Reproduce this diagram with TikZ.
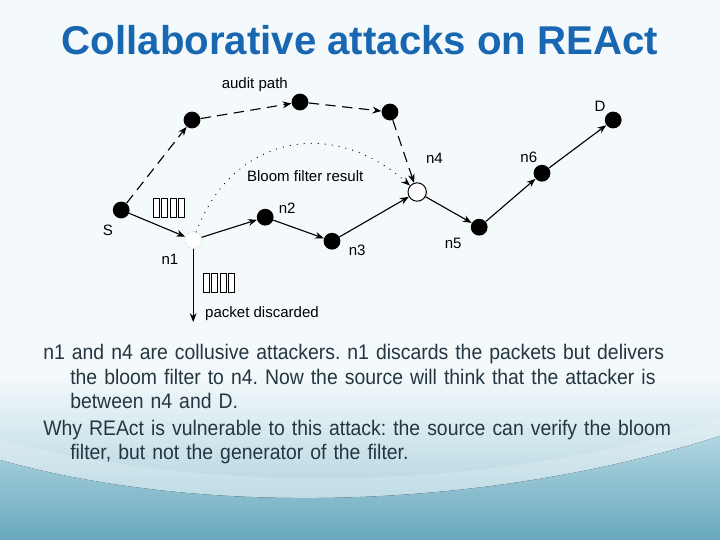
\documentclass[tikz,border=0pt]{standalone}
\usepackage{fontspec}
\setmainfont{Liberation Sans}
\newfontfamily\slidefont[FakeStretch=0.92]{Liberation Sans}
\usetikzlibrary{positioning,arrows.meta,calc,backgrounds}

\definecolor{titleblue}{RGB}{24,103,176}
\definecolor{bodyslate}{RGB}{36,54,64}
\definecolor{slidetop}{RGB}{244,249,251}
\definecolor{wavelight}{RGB}{190,222,231}
\definecolor{wavedark}{RGB}{104,168,190}

\tikzset{
    packets/.pic={
        \foreach \k in {0,...,3}
            \draw[line width=0.7pt, fill=white] (\k*0.21,0) rectangle ++(0.15,0.46);
    }
}

\begin{document}
\begin{tikzpicture}[
    font=\fontsize{10.7}{12}\selectfont,
    dot/.style={
        circle,
        fill=black,
        inner sep=0pt,
        minimum size=0.42cm
    },
    dropper/.style={
        circle,
        draw=black!30,
        densely dotted,
        fill=white,
        inner sep=0pt,
        minimum size=0.42cm
    },
    mole/.style={
        circle,
        draw=black,
        fill=white,
        line width=0.7pt,
        inner sep=0pt,
        minimum size=0.46cm
    },
    tag/.style={
        inner sep=1pt,
        text=black
    },
    hop/.style={
        -{Stealth[length=2.2mm,width=1.7mm]},
        line width=0.8pt
    },
    audit/.style={
        hop,
        dash pattern=on 2.6mm off 1.6mm
    },
    bloom/.style={
        -{Stealth[length=2.2mm,width=1.7mm]},
        line width=0.9pt,
        line cap=round,
        dash pattern=on 0pt off 5pt
    }
]

\useasboundingbox (0,0) rectangle (18,-13.5);

% Slide background
\begin{scope}[on background layer]
\fill[slidetop] (0,0) rectangle (18,-13.5);
\fill[top color=slidetop, bottom color=wavelight!60!wavedark] (0,-9.4) rectangle (18,-13.5);
\fill[top color=wavelight!85!wavedark, bottom color=wavedark]
    (0,-11.5) .. controls (5,-12.9) and (12,-12.8) .. (18,-10.9) -- (18,-13.5) -- (0,-13.5) -- cycle;
\fill[white, opacity=0.18]
    (0,-11.0) .. controls (5,-12.3) and (12,-12.4) .. (18,-10.5) --
    (18,-10.9) .. controls (12,-12.8) and (5,-12.9) .. (0,-11.5) -- cycle;
\end{scope}

% Title
\node[font=\fontsize{28.6}{32}\selectfont\bfseries, text=titleblue] (title) at (9.0,-1.0) {Collaborative attacks on REAct};

% Data path
\node[dot] (s) at (3.03,-5.25) {};
\node[dropper] (n1) at (4.83,-6.00) {};
\node[dot] (n2) at (6.63,-5.43) {};
\node[dot] (n3) at (8.30,-6.03) {};
\node[mole] (n4) at (10.43,-4.80) {};
\node[dot] (n5) at (11.98,-5.68) {};
\node[dot] (n6) at (13.55,-4.33) {};
\node[dot] (d) at (15.33,-3.00) {};

% Audit path
\node[dot] (a1) at (4.80,-3.00) {};
\node[dot] (a2) at (7.50,-2.55) {};
\node[dot] (a3) at (9.75,-2.80) {};

% Node labels
\node[tag] (ls) at ($(s)+(-0.33,-0.50)$) {S};
\node[tag] (ln1) at ($(n1)+(-0.58,-0.48)$) {n1};
\node[tag] (ln2) at ($(n2)+(0.55,0.23)$) {n2};
\node[tag] (ln3) at ($(n3)+(0.63,-0.23)$) {n3};
\node[tag] (ln4) at ($(n4)+(0.43,0.85)$) {n4};
\node[tag] (ln5) at ($(n5)+(-0.65,-0.40)$) {n5};
\node[tag] (ln6) at ($(n6)+(-0.33,0.40)$) {n6};
\node[tag] (ld) at ($(d)+(-0.33,0.35)$) {D};
\node[tag] (laudit) at ($(a2)+(-1.13,0.43)$) {audit path};
\node[tag] (lbloom) at (7.63,-4.40) {Bloom filter result};
\node[tag] (ldrop) at (6.55,-7.83) {packet discarded};

% Packets
\pic at (3.83,-5.43) {packets};
\pic at (5.08,-7.30) {packets};

% Arrows
\draw[hop] (s) -- (n1);
\draw[hop] (n1) -- (n2);
\draw[hop] (n2) -- (n3);
\draw[hop] (n3) -- (n4);
\draw[hop] (n4) -- (n5);
\draw[hop] (n5) -- (n6);
\draw[hop] (n6) -- (d);

\coordinate (drop) at (4.83,-8.05);
\draw[hop] (n1) -- (drop);

\draw[audit] (s) -- (a1);
\draw[audit] (a1) -- (a2);
\draw[audit] (a2) -- (a3);
\draw[audit] (a3) -- (n4);

\draw[bloom] (n1) .. controls (5.8,-3.4) and (8.3,-2.9) .. (n4);

% Explanation
\node[anchor=north west, inner sep=0pt, text width=16.6cm, align=left, text=bodyslate,
      font=\slidefont\fontsize{15.0}{17.4}\selectfont] (notes) at (1.075,-8.60) {%
\frenchspacing\parskip=1.8pt\parindent=0pt
\hangindent=0.675cm\hangafter=1
n1 and n4 are collusive attackers. n1 discards the packets but delivers\newline
the bloom filter to n4. Now the source will think that the attacker is\newline
between n4 and D.\par
\hangindent=0.675cm\hangafter=1
Why REAct is vulnerable to this attack: the source can verify the bloom\newline
filter, but not the generator of the filter.\par};

\end{tikzpicture}
\end{document}
